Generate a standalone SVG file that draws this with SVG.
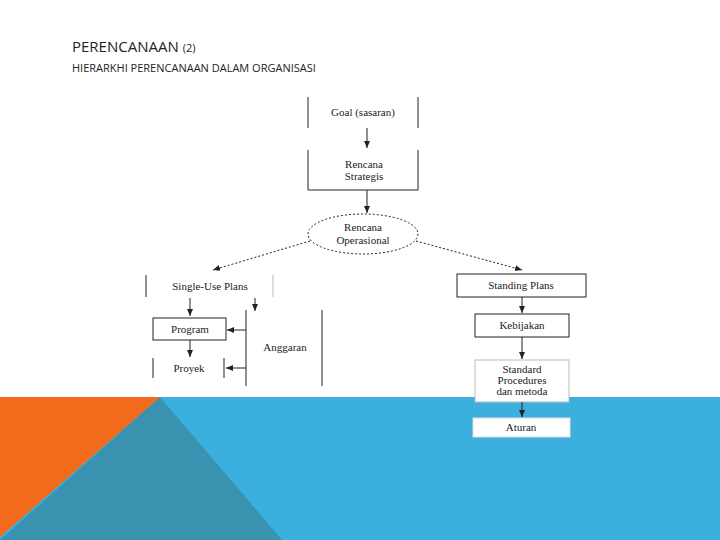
<svg xmlns="http://www.w3.org/2000/svg" width="720" height="540" viewBox="0 0 720 540">
<style>
.t{font-family:"Liberation Serif",serif;font-size:11px;fill:#222;text-anchor:middle}
.l{stroke:#222;stroke-width:1;fill:none}
.b{stroke:#222;stroke-width:1;fill:#fff}
.d{stroke:#222;stroke-width:1;fill:none;stroke-dasharray:2 2}
.h{font-family:"Open Sans","Liberation Sans",sans-serif;fill:#222}
</style>
<defs><marker id="a" markerWidth="8" markerHeight="8" refX="7" refY="4" orient="auto" markerUnits="userSpaceOnUse"><path d="M0,1 L7,4 L0,7z" fill="#222"/></marker></defs>
<rect width="720" height="540" fill="#fff"/>
<rect x="0" y="397" width="720" height="143" fill="#3BB0DE"/>
<polygon points="160,397 282,540 0,540" fill="#3892B0"/>
<polygon points="0,397 160,397 0,537" fill="#F26B1D"/>
<text class="h" x="72" y="52" font-size="15">PERENCANAAN <tspan font-size="11">(2)</tspan></text>
<text class="h" x="72" y="72" font-size="11">HIERARKHI PERENCANAAN DALAM ORGANISASI</text>
<g id="goal"><path class="l" d="M308,97V128M418,97V128"/><text class="t" x="363" y="116">Goal (sasaran)</text></g>
<g id="strategis"><path class="l" d="M308,150V190H418V150"/><text class="t" x="364" y="168">Rencana</text><text class="t" x="364" y="180">Strategis</text></g>
<g id="operasional"><ellipse class="d" cx="363" cy="234" rx="55" ry="20"/><text class="t" x="363" y="231">Rencana</text><text class="t" x="363" y="244">Operasional</text></g>
<g id="single"><path class="l" d="M146,275V297"/><path d="M273,275V297" stroke="#bbb"/><text class="t" x="210" y="290">Single-Use Plans</text></g>
<g id="program"><rect class="b" x="153" y="318" width="73" height="22"/><text class="t" x="190" y="333">Program</text></g>
<g id="proyek"><path class="l" d="M153,358V378M224,358V378"/><text class="t" x="189" y="372">Proyek</text></g>
<g id="anggaran"><path class="l" d="M246,310V386M322,310V386"/><text class="t" x="285" y="351">Anggaran</text></g>
<g id="standing"><rect class="b" x="457" y="274" width="129" height="23"/><text class="t" x="521" y="289">Standing Plans</text></g>
<g id="kebijakan"><rect class="b" x="475" y="314" width="94" height="23"/><text class="t" x="522" y="329">Kebijakan</text></g>
<g id="standard"><rect x="475" y="360" width="94" height="42" fill="#fff" stroke="#bbb"/><text class="t" x="522" y="373">Standard</text><text class="t" x="522" y="384">Procedures</text><text class="t" x="522" y="395">dan metoda</text></g>
<g id="aturan"><rect x="473" y="418" width="97" height="19" fill="#fff" stroke="#ddd"/><text class="t" x="521" y="431">Aturan</text></g>
<g id="connectors">
<path class="l" d="M367,128V148" marker-end="url(#a)"/>
<path class="l" d="M367,190V213" marker-end="url(#a)"/>
<path class="d" d="M310,241L213,270" marker-end="url(#a)"/>
<path class="d" d="M416,241L522,270" marker-end="url(#a)"/>
<path class="l" d="M190,298V316" marker-end="url(#a)"/>
<path class="l" d="M255,298V311" marker-end="url(#a)"/>
<path class="l" d="M190,340V357" marker-end="url(#a)"/>
<path class="l" d="M246,330H227" marker-end="url(#a)"/>
<path class="l" d="M246,368H226" marker-end="url(#a)"/>
<path class="l" d="M522,297V313" marker-end="url(#a)"/>
<path class="l" d="M522,337V359" marker-end="url(#a)"/>
<path class="l" d="M522,402V417" marker-end="url(#a)"/>
</g>
</svg>
